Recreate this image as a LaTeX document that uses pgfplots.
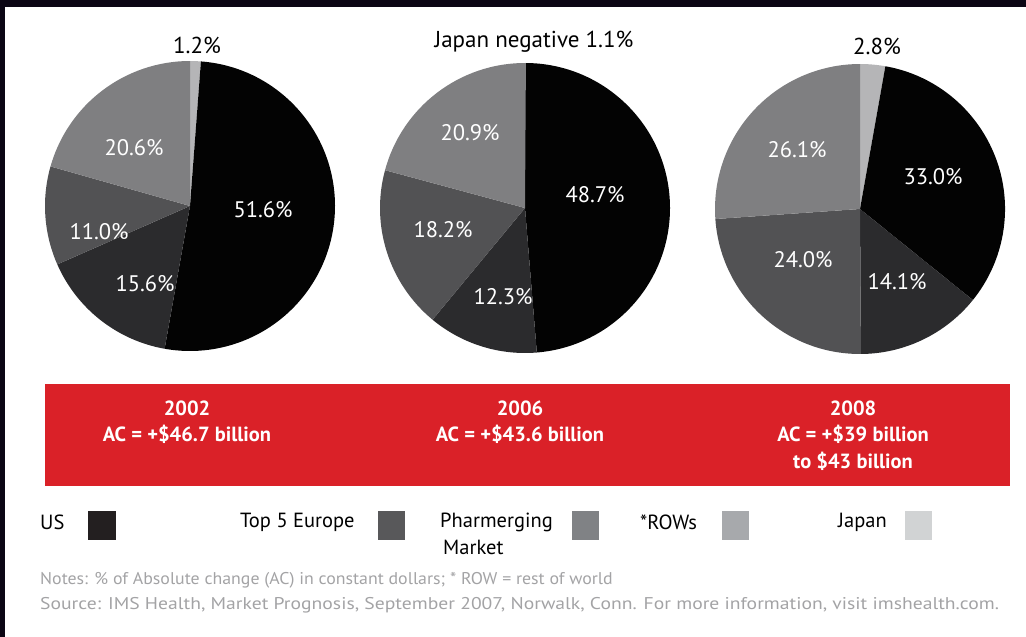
\documentclass[border=0pt]{standalone}
\usepackage{pgfplots}
\pgfplotsset{compat=1.18}
\usepackage{graphicx}
\usepackage{fontspec}
\setmainfont{PT Sans}
\definecolor{cUS}{HTML}{030303}
\definecolor{cEU}{HTML}{2B2B2D}
\definecolor{cPH}{HTML}{525254}
\definecolor{cRW}{HTML}{7F7F81}
\definecolor{cJP}{HTML}{B5B5B7}
\definecolor{lUS}{HTML}{231F20}
\definecolor{lEU}{HTML}{58585A}
\definecolor{lPH}{HTML}{808285}
\definecolor{lRW}{HTML}{A7A9AC}
\definecolor{lJP}{HTML}{D1D3D4}
\definecolor{banner}{HTML}{DA2128}
\definecolor{notegray}{HTML}{A3A3A5}
\definecolor{frame}{HTML}{0B0614}
% slice: cx, cy, start %, end %, colour (clockwise from 12 o'clock)
\newcommand{\slice}[5]{%
  \fill[#5] (axis cs:#1,#2) -- ++({90-3.6*(#3)}:145bp) arc[start angle={90-3.6*(#3)}, end angle={90-3.6*(#4)}, radius=145bp] -- cycle;}
\newcommand{\pl}[3]{\node[text=white,font=\fontsize{22.5bp}{26bp}\selectfont] at (axis cs:#1,#2) {#3};}
\newcommand{\tl}[3]{\node[text=black,font=\fontsize{23bp}{26bp}\selectfont] at (axis cs:#1,#2) {#3};}
\newcommand{\legtext}[3]{\node[anchor=west,inner sep=0pt,font=\fontsize{20.5bp}{25bp}\selectfont] at (axis cs:#1,#2) {#3};}
\begin{document}
\begin{tikzpicture}
\begin{axis}[width=1026bp,height=637bp,scale only axis,xmin=0,xmax=1026,ymin=0,ymax=637,y dir=reverse,hide axis,clip=false]
% frame
\fill[frame] (axis cs:0,0) rectangle (axis cs:1026,7);
\fill[frame] (axis cs:0,0) rectangle (axis cs:5,637);
% Pie 2002: Japan 1.2, US 51.6, Top5 15.6, Pharm 11.0, ROW 20.6
\slice{190}{206}{0}{1.2}{cJP}
\slice{190}{206}{1.2}{52.8}{cUS}
\slice{190}{206}{52.8}{68.4}{cEU}
\slice{190}{206}{68.4}{79.4}{cPH}
\slice{190}{206}{79.4}{100}{cRW}
% Pie 2006: US 48.7, Top5 12.3, Pharm 18.2, ROW 20.9
\slice{525}{208}{0}{48.7}{cUS}
\slice{525}{208}{48.7}{61.0}{cEU}
\slice{525}{208}{61.0}{79.2}{cPH}
\slice{525}{208}{79.2}{100.1}{cRW}
% Pie 2008: Japan 2.8, US 33.0, Top5 14.1, Pharm 24.0, ROW 26.1
\slice{860}{209}{0}{2.8}{cJP}
\slice{860}{209}{2.8}{35.8}{cUS}
\slice{860}{209}{35.8}{49.9}{cEU}
\slice{860}{209}{49.9}{73.9}{cPH}
\slice{860}{209}{73.9}{100}{cRW}
% labels
\tl{197}{45}{1.2\%}
\pl{263}{210}{51.6\%}
\pl{145}{284}{15.6\%}
\pl{99}{232}{11.0\%}
\pl{134}{148}{20.6\%}
\tl{534}{42}{Japan negative 1.1\%}
\pl{595}{195}{48.7\%}
\pl{470}{133}{20.9\%}
\pl{443}{230}{18.2\%}
\pl{503}{297}{12.3\%}
\tl{877}{46}{2.8\%}
\pl{933}{177}{33.0\%}
\pl{797}{150}{26.1\%}
\pl{803}{260}{24.0\%}
\pl{897}{282}{14.1\%}
% banner
\fill[banner] (axis cs:45,384) rectangle (axis cs:1010,486);
\node[text=white,font=\bfseries\fontsize{20.5bp}{26.5bp}\selectfont,align=center,anchor=north] at (axis cs:187,397) {2002\\AC = +\$46.7 billion};
\node[text=white,font=\bfseries\fontsize{20.5bp}{26.5bp}\selectfont,align=center,anchor=north] at (axis cs:520,397) {2006\\AC = +\$43.6 billion};
\node[text=white,font=\bfseries\fontsize{20.5bp}{26.5bp}\selectfont,align=center,anchor=north] at (axis cs:853,397) {2008\\AC = +\$39 billion\\to \$43 billion};
% legend
\fill[lUS] (axis cs:88,511) rectangle (axis cs:116,540);
\fill[lEU] (axis cs:378,511) rectangle (axis cs:405,540);
\fill[lPH] (axis cs:572,511) rectangle (axis cs:599,540);
\fill[lRW] (axis cs:722,511) rectangle (axis cs:749,540);
\fill[lJP] (axis cs:905,511) rectangle (axis cs:932,540);
\legtext{40}{522}{US}
\legtext{240}{522}{Top 5 Europe}
\legtext{440}{522}{Pharmerging}
\legtext{443}{547}{Market}
\legtext{640}{522}{*ROWs}
\legtext{838}{522}{Japan}
% notes
\node[anchor=west,inner sep=0pt,text=notegray,font=\fontsize{17bp}{20bp}\selectfont] at (axis cs:40,580) {\scalebox{1.05}[1]{Notes: \% of Absolute change (AC) in constant dollars; * ROW = rest of world}};
\node[anchor=west,inner sep=0pt,text=notegray,font=\fontsize{17bp}{20bp}\selectfont] at (axis cs:40,605) {\scalebox{1.155}[1]{Source: IMS Health, Market Prognosis, September 2007, Norwalk, Conn. For more information, visit imshealth.com.}};
\end{axis}
\end{tikzpicture}
\end{document}
